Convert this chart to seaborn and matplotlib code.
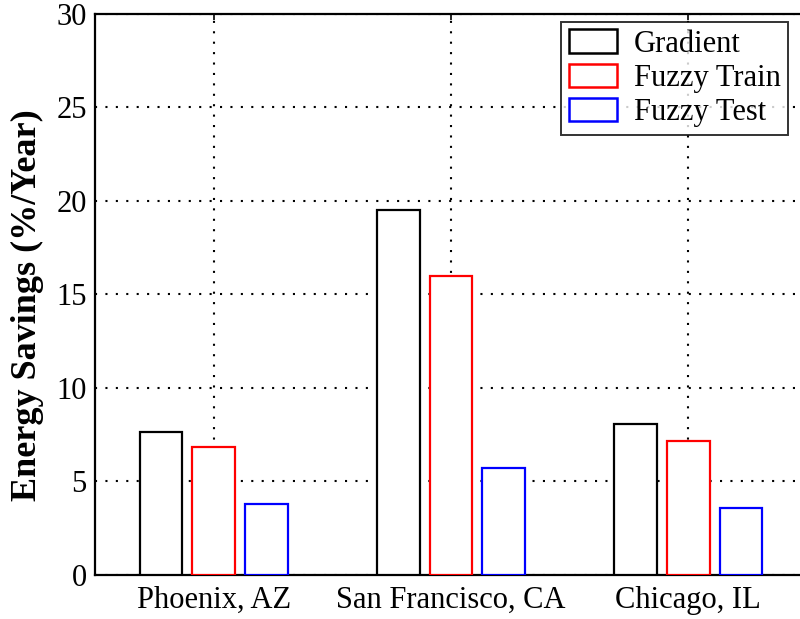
import matplotlib
matplotlib.use("Agg")
import matplotlib.pyplot as plt
import seaborn as sns
import pandas as pd
from matplotlib.patches import Patch

cities = ["Phoenix, AZ", "San Francisco, CA", "Chicago, IL"]
methods = ["Gradient", "Fuzzy Train", "Fuzzy Test"]
gradient = [7.65, 19.5, 8.07]
fuzzy_train = [6.85, 16.0, 7.15]
fuzzy_test = [3.8, 5.7, 3.6]
edge_colors = ["black", "red", "blue"]
yticks = [0, 5, 10, 15, 20, 25, 30]

rows = []
for m, vals in zip(methods, [gradient, fuzzy_train, fuzzy_test]):
    for c, v in zip(cities, vals):
        rows.append({"city": c, "method": m, "value": v})
df = pd.DataFrame(rows)

sns.set_theme(style="white")
plt.rcParams["font.family"] = ["Liberation Serif", "DejaVu Serif"]
plt.rcParams["text.color"] = "black"
plt.rcParams["axes.labelcolor"] = "black"

fig = plt.figure(figsize=(8, 6.19), dpi=100)
ax = fig.add_axes([0.11875, 0.0711, 0.89, 0.9063])

sns.barplot(data=df, x="city", y="value", hue="method", order=cities,
            hue_order=methods, width=0.667, gap=0.19, ax=ax,
            palette=["white"] * 3, legend=False, zorder=3)

for i, bar in enumerate(ax.patches):
    bar.set_edgecolor(edge_colors[i // len(cities)])
    bar.set_facecolor("white")
    bar.set_linewidth(1.6)
    bar.set_zorder(3)

ax.set_xlim(-0.5, 2.5)
ax.set_ylim(0, 30)
ax.set_yticks(yticks)
ax.set_xlabel("")
ax.set_ylabel("Energy Savings (%/Year)", fontsize=26, fontweight="bold",
              color="black")
ax.yaxis.set_label_coords(-0.0716, 0.481)
ax.tick_params(axis="both", labelsize=22, direction="in", length=4,
               top=True, right=True, width=1.2, colors="black")
ax.tick_params(axis="x", pad=8)
ax.tick_params(axis="y", pad=6)
ax.grid(True, linestyle=(0, (1, 4)), color="black", linewidth=1.5, zorder=0)
ax.set_axisbelow(True)
for s in ax.spines.values():
    s.set_linewidth(1.6)
    s.set_color("black")
    s.set_visible(True)

handles = [Patch(facecolor="white", edgecolor=c, linewidth=1.8, label=m)
           for m, c in zip(methods, edge_colors)]
leg = ax.legend(handles=handles, loc="upper right", bbox_to_anchor=(0.9735, 0.986),
                fontsize=22, frameon=True, fancybox=False, edgecolor="black",
                handlelength=1.57, handleheight=0.82, borderpad=0.25,
                labelspacing=0.15, handletextpad=0.55, borderaxespad=0)
leg.get_frame().set_linewidth(1.4)
for t in leg.get_texts():
    t.set_color("black")

fig.savefig("out.png", dpi=100)
